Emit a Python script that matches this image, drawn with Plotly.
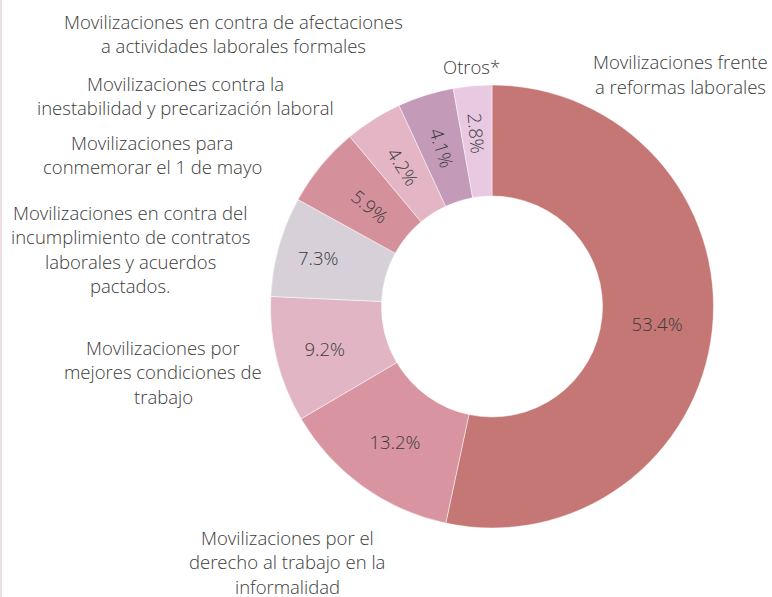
import plotly.graph_objects as go

W, H = 772, 597

categories = [
    "Movilizaciones frente<br>a reformas laborales",
    "Movilizaciones por el<br>derecho al trabajo en la<br>informalidad",
    "Movilizaciones por<br>mejores condiciones de<br>trabajo",
    "Movilizaciones en contra del<br>incumplimiento de contratos<br>laborales y acuerdos<br>pactados.",
    "Movilizaciones para<br>conmemorar el 1 de mayo",
    "Movilizaciones contra la<br>inestabilidad y precarización laboral",
    "Movilizaciones en contra de afectaciones<br>a actividades laborales formales",
    "Otros*",
]
values = [53.4, 13.2, 9.2, 7.3, 5.9, 4.2, 4.1, 2.8]
colors = ["#c47775", "#d894a0", "#e2b5c5", "#d7d0d9", "#d5919b", "#e3b5c5", "#c49ab9", "#e9c8e1"]
radial_text = [False, False, False, False, True, True, True, True]

# label block centers (x px) and first-line center (y px)
label_pos = [
    (680, 62), (287, 537), (163, 347), (130, 212),
    (152, 142), (185, 83), (233, 21), (472, 67),
]
LINE_GAP = 24.5
TEXT_COLOR = "#3b3b3b"
FONT = "Open Sans"

cx, cy, r = 492, 306.5, 221.5
r_in = 110.5
r2 = 196  # outer radius of transparent text ring for radial labels


def dom(rad):
    return dict(x=[(cx - rad) / W, (cx + rad) / W], y=[1 - (cy + rad) / H, 1 - (cy - rad) / H])


plain_labels = [c.replace("<br>", " ") for c in categories]

fig = go.Figure()
fig.add_trace(go.Pie(
    labels=plain_labels, values=values, sort=False, direction="clockwise", rotation=0,
    hole=r_in / r,
    marker=dict(colors=colors, line=dict(color="rgba(255,255,255,0.6)", width=0.8)),
    texttemplate=["" if rt else "%{value:.1f}%" for rt in radial_text],
    textposition="inside", insidetextorientation="horizontal",
    textfont=dict(family=FONT, size=18.5, color=TEXT_COLOR, weight=300),
    showlegend=False, hoverinfo="label+percent", domain=dom(r),
))
fig.add_trace(go.Pie(
    labels=plain_labels, values=values, sort=False, direction="clockwise", rotation=0,
    hole=r_in / r2,
    marker=dict(colors=["rgba(0,0,0,0)"] * len(values), line=dict(width=0)),
    texttemplate=["%{value:.1f}%" if rt else "" for rt in radial_text],
    textposition="inside", insidetextorientation="radial",
    textfont=dict(family=FONT, size=18.5, color=TEXT_COLOR, weight=300),
    showlegend=False, hoverinfo="skip", domain=dom(r2),
))

annotations = []
for cat, (x, y) in zip(categories, label_pos):
    for i, line in enumerate(cat.split("<br>")):
        annotations.append(dict(
            x=x / W, y=1 - (y + i * LINE_GAP) / H, xref="paper", yref="paper",
            text=line, showarrow=False, xanchor="center", yanchor="middle",
            font=dict(family=FONT, size=18.5, color=TEXT_COLOR, weight=300),
        ))

fig.update_layout(
    width=W, height=H,
    margin=dict(l=0, r=0, t=0, b=0),
    paper_bgcolor="white", plot_bgcolor="white",
    annotations=annotations,
    shapes=[dict(type="rect", xref="paper", yref="paper", x0=0, x1=2 / W, y0=0, y1=1,
                 fillcolor="#efdfe2", line=dict(width=0), layer="below")],
)

fig.write_html("out.html", config={"displayModeBar": False},
               post_script="document.body.style.margin='0px';")
